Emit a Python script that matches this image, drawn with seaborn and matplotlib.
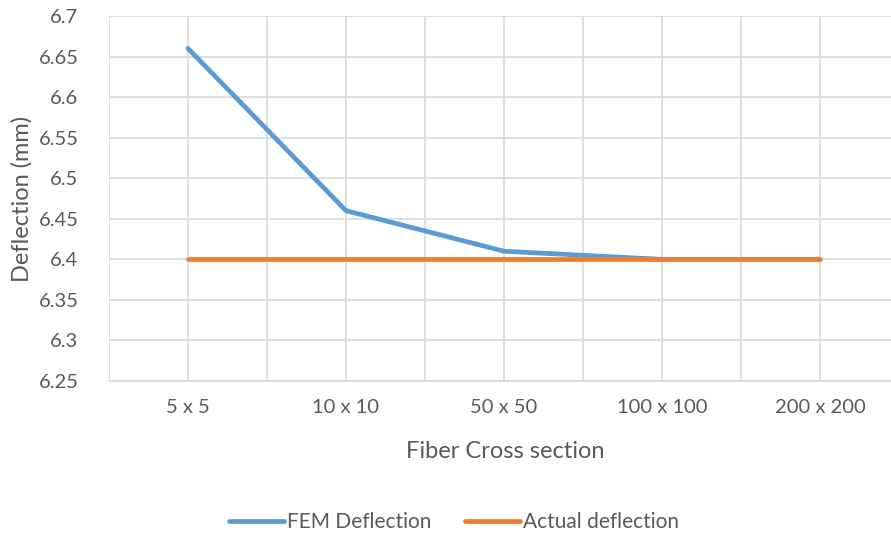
import matplotlib
matplotlib.use("Agg")
import matplotlib.pyplot as plt
import seaborn as sns
import pandas as pd
import numpy as np

categories = ["5 x 5", "10 x 10", "50 x 50", "100 x 100", "200 x 200"]
fem_deflection = [6.66, 6.46, 6.41, 6.40, 6.40]
actual_deflection = [6.40, 6.40, 6.40, 6.40, 6.40]
series_names = ["FEM Deflection", "Actual deflection"]
y_ticks = [6.25, 6.3, 6.35, 6.4, 6.45, 6.5, 6.55, 6.6, 6.65, 6.7]
y_tick_labels = ["6.25", "6.3", "6.35", "6.4", "6.45", "6.5", "6.55", "6.6", "6.65", "6.7"]

sns.set_theme(style="white")
plt.rcParams['font.family'] = ['Lato', 'DejaVu Sans']

df = pd.DataFrame({
    "x": list(range(len(categories))) * 2,
    "y": fem_deflection + actual_deflection,
    "series": [series_names[0]] * len(categories) + [series_names[1]] * len(categories),
})

fig = plt.figure(figsize=(8.91, 5.38), dpi=100)
ax = fig.add_axes([109/891, 1 - 381/538, 790/891, 365/538])

text_col = "#595959"
grid_col = "#D9D9D9"

sns.lineplot(data=df, x="x", y="y", hue="series", palette=["#5B9BD5", "#ED7D31"],
             linewidth=3.4, ax=ax, legend=True)
for ln in ax.lines:
    ln.set_solid_capstyle("round")

ax.set_xlim(-0.5, len(categories) - 0.5)
ax.set_ylim(6.25, 6.7)
ax.set_yticks(y_ticks)
ax.set_yticklabels(y_tick_labels)
ax.set_xticks(range(len(categories)))
ax.set_xticklabels(categories)
ax.set_xticks(np.arange(-0.5, len(categories), 1.0), minor=True)

# gridlines every half category
for xv in np.arange(-0.5, len(categories) + 0.01, 0.5):
    ax.axvline(xv, color=grid_col, lw=1.2, zorder=0)
ax.grid(axis="y", color=grid_col, lw=1.2)
ax.set_axisbelow(True)

for s in ["top", "right", "left"]:
    ax.spines[s].set_visible(False)
ax.spines["bottom"].set_color(grid_col)
ax.spines["bottom"].set_linewidth(1.2)

ax.tick_params(axis="x", which="both", colors=grid_col, labelcolor=text_col,
               labelsize=14.5, length=5, width=1.2, pad=8, direction="out")
ax.tick_params(axis="y", length=0, labelcolor=text_col, labelsize=14.5, pad=22)

ax.set_xlabel("Fiber Cross section", color=text_col, fontsize=17)
ax.xaxis.set_label_coords((505 - 109) / 790, -(441 - 381) / 365)
ax.set_ylabel("Deflection (mm)", color=text_col, fontsize=17)
ax.yaxis.set_label_coords(-(109 - 33) / 790, 0.5)

handles, labels = ax.get_legend_handles_labels()
ax.legend(handles, labels, loc="center", bbox_to_anchor=(454/891, 1 - 522/538),
          bbox_transform=fig.transFigure, ncol=2, frameon=False, fontsize=15,
          handlelength=2.65, handletextpad=0.15, columnspacing=1.6,
          labelcolor=text_col)

fig.savefig("out.png", dpi=100)
